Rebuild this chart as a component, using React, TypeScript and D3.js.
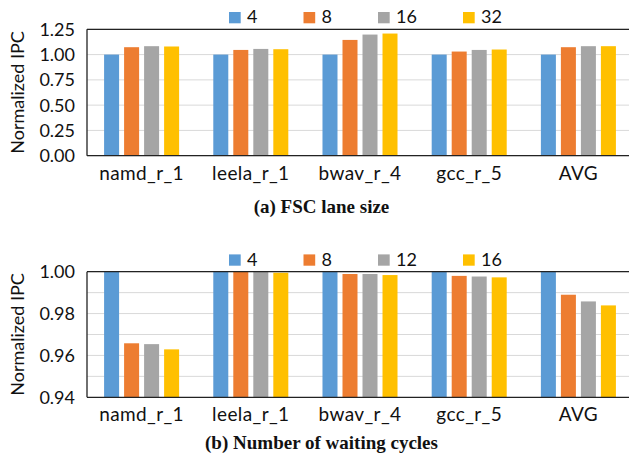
import React from 'react'
import { scaleBand, scaleLinear } from 'd3'

const categories = ['namd_r_1', 'leela_r_1', 'bwav_r_4', 'gcc_r_5', 'AVG']
const colors = ['#5B9BD5', '#ED7D31', '#A5A5A5', '#FFC000']

// (a) FSC lane size
const laneKeys = ['4', '8', '16', '32']
const lane4 = [1.0, 1.0, 1.0, 1.0, 1.0]
const lane8 = [1.073, 1.046, 1.145, 1.03, 1.073]
const lane16 = [1.083, 1.056, 1.198, 1.046, 1.083]
const lane32 = [1.08, 1.053, 1.208, 1.05, 1.083]
const laneTicks = [0, 0.25, 0.5, 0.75, 1.0, 1.25]

// (b) number of waiting cycles
const waitKeys = ['4', '8', '12', '16']
const wait4 = [1.0, 1.0, 1.0, 1.0, 1.0]
const wait8 = [0.9658, 1.0, 0.9989, 0.998, 0.989]
const wait12 = [0.9654, 1.0, 0.9989, 0.9977, 0.9858]
const wait16 = [0.9629, 0.9995, 0.9984, 0.9973, 0.9839]
const waitTicks = [0.94, 0.96, 0.98, 1.0]
const waitGrid = [0.95, 0.96, 0.97, 0.98, 0.99, 1.0]

const FONT = 'Lato, "Liberation Sans", sans-serif'
const left = 87
const right = 633

function Panel({ top, bottom, domain, ticks, grid, series, keys, legendY, caption, captionY }) {
  const x = scaleBand().domain(categories).range([left, right]).paddingInner(0.313).paddingOuter(0.1565)
  const xs = scaleBand().domain(keys).range([0, x.bandwidth()]).paddingInner(0.25)
  const y = scaleLinear().domain(domain).range([bottom, top])

  let lx = 229
  const legend = keys.map((k, i) => {
    const item = { k, i, x: lx }
    lx += 64 + k.length * 10.5
    return item
  })

  return (
    <g>
      {grid.map(g => (
        <line key={g} x1={left} x2={629} y1={y(g)} y2={y(g)} stroke="#D9D9D9" strokeWidth={1} />
      ))}
      {series.map((vals, si) =>
        vals.map((v, ci) => (
          <rect key={si + '-' + ci}
            x={x(categories[ci]) + xs(keys[si])}
            y={y(v)}
            width={xs.bandwidth()}
            height={y(domain[0]) - y(v)}
            fill={colors[si]} />
        ))
      )}
      <line x1={left} x2={629} y1={top} y2={top} stroke="#222" strokeWidth={1.3} />
      <line x1={left} x2={629} y1={bottom} y2={bottom} stroke="#222" strokeWidth={1.3} />
      <line x1={left} x2={left} y1={top} y2={bottom} stroke="#222" strokeWidth={1.3} />
      {ticks.map(t => (
        <text key={t} x={left - 12} y={y(t)} dy="0.36em" textAnchor="end"
          fontFamily={FONT} fontSize={18} fill="#111">{t.toFixed(2)}</text>
      ))}
      <text transform={`translate(24,${(top + bottom) / 2}) rotate(-90)`} textAnchor="middle"
        fontFamily={FONT} fontSize={18} fill="#111">Normalized IPC</text>
      {categories.map(c => (
        <text key={c} x={x(c) + x.bandwidth() / 2} y={bottom + 24} textAnchor="middle"
          fontFamily={FONT} fontSize={19} letterSpacing={0.4} fill="#111">{c}</text>
      ))}
      {legend.map(l => (
        <g key={l.k}>
          <rect x={l.x} y={legendY - 11.3} width={11.7} height={11.3} fill={colors[l.i]} />
          <text x={l.x + 18} y={legendY} fontFamily={FONT} fontSize={18} fill="#111">{l.k}</text>
        </g>
      ))}
      <text x={321.5} y={captionY} textAnchor="middle" fontFamily='"Liberation Serif", serif'
        fontWeight="bold" fontSize={19} fill="#111">{caption}</text>
    </g>
  )
}

export default function App() {
  return (
    <svg width={629} height={457} style={{ position: 'absolute', left: 0, top: 0, background: '#fff' }}>
      <Panel top={29.3} bottom={155.7} domain={[0, 1.25]} ticks={laneTicks} grid={laneTicks}
        series={[lane4, lane8, lane16, lane32]} keys={laneKeys} legendY={23.3}
        caption="(a) FSC lane size" captionY={213} />
      <Panel top={271.7} bottom={397.3} domain={[0.94, 1.0]} ticks={waitTicks} grid={waitGrid}
        series={[wait4, wait8, wait12, wait16]} keys={waitKeys} legendY={265.7}
        caption="(b) Number of waiting cycles" captionY={449} />
    </svg>
  )
}
